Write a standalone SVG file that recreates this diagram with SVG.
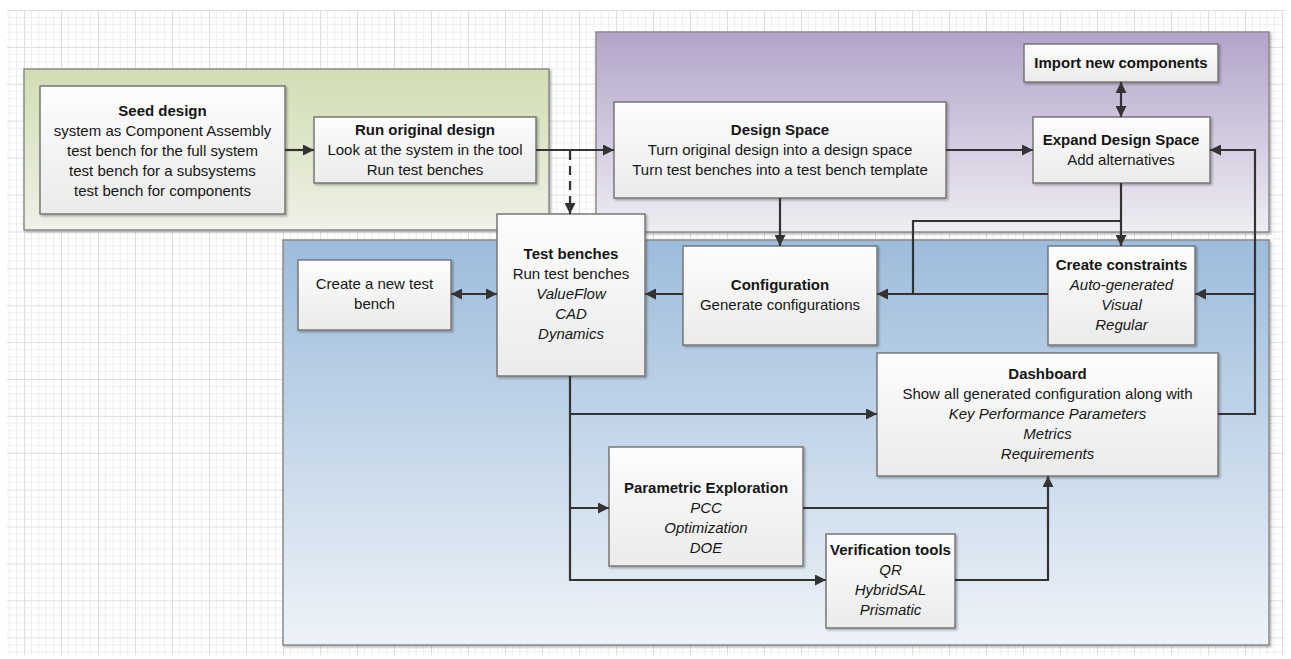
<svg xmlns="http://www.w3.org/2000/svg" width="1291" height="659" viewBox="0 0 1291 659">
  <defs>
    <pattern id="grid" x="24" y="10" width="37" height="36.9" patternUnits="userSpaceOnUse">
      <path d="M7.4 0V36.9M14.8 0V36.9M22.2 0V36.9M29.6 0V36.9M0 7.38H37M0 14.76H37M0 22.14H37M0 29.52H37" stroke="#f0eded" stroke-width="1" fill="none"/>
      <path d="M0.5 0V36.9M0 0.5H37" stroke="#e2dddd" stroke-width="1" fill="none"/>
    </pattern>
    <linearGradient id="gGreen" x1="0" y1="0" x2="0" y2="1">
      <stop offset="0" stop-color="#d2ddb3"/>
      <stop offset="1" stop-color="#eef1e7"/>
    </linearGradient>
    <linearGradient id="gPurple" x1="0" y1="0" x2="0" y2="1">
      <stop offset="0" stop-color="#b2a4c9"/>
      <stop offset="1" stop-color="#efedf3"/>
    </linearGradient>
    <linearGradient id="gBlue" x1="0" y1="0" x2="0" y2="1">
      <stop offset="0" stop-color="#9dbcdc"/>
      <stop offset="1" stop-color="#eef3f8"/>
    </linearGradient>
    <linearGradient id="gNode" x1="0" y1="0" x2="0" y2="1">
      <stop offset="0" stop-color="#fdfdfd"/>
      <stop offset="1" stop-color="#ebebeb"/>
    </linearGradient>
    <filter id="shadow" x="-5%" y="-5%" width="115%" height="120%">
      <feDropShadow dx="1.5" dy="1.5" stdDeviation="1" flood-color="#000" flood-opacity="0.3"/>
    </filter>
    <marker id="arrow" viewBox="0 0 10 10" refX="10" refY="5" markerWidth="11" markerHeight="11" markerUnits="userSpaceOnUse" orient="auto-start-reverse">
      <path d="M0 0L10 5L0 10z" fill="#333"/>
    </marker>
    <style>
      .container { stroke: #8a8a8a; stroke-width: 1.5; filter: url(#shadow); }
      .box { fill: url(#gNode); stroke: #777; stroke-width: 1.5; filter: url(#shadow); }
      .t { font-family: "Liberation Sans", Arial, sans-serif; font-size: 15px; fill: #161616; text-anchor: middle; }
      .b { font-weight: bold; }
      .i { font-style: italic; }
      .link { fill: none; stroke: #333; stroke-width: 2.2; }
      .dash { stroke-dasharray: 9 6; }
    </style>
  </defs>

  <!-- drawing sheet -->
  <rect x="0" y="0" width="1291" height="659" fill="#fff"/>
  <rect x="7" y="10" width="1278" height="645" fill="url(#grid)"/>

  <!-- swimlane containers -->
  <g id="lane-seed">
    <rect class="container" x="24" y="69" width="525" height="161" fill="url(#gGreen)"/>
  </g>
  <g id="lane-design-space">
    <rect class="container" x="596" y="32" width="673" height="200" fill="url(#gPurple)"/>
  </g>
  <g id="lane-evaluation">
    <rect class="container" x="283" y="240" width="986" height="405" fill="url(#gBlue)"/>
  </g>

  <!-- nodes -->
  <g id="seed-design">
    <rect class="box" x="40" y="86" width="245" height="128"/>
    <text class="t b" x="162.5" y="116">Seed design</text>
    <text class="t" x="162.5" y="136">system as Component Assembly</text>
    <text class="t" x="162.5" y="156">test bench for the full system</text>
    <text class="t" x="162.5" y="176">test bench for a subsystems</text>
    <text class="t" x="162.5" y="196">test bench for components</text>
  </g>
  <g id="run-original-design">
    <rect class="box" x="314" y="117" width="222" height="66"/>
    <text class="t b" x="425" y="135">Run original design</text>
    <text class="t" x="425" y="155">Look at the system in the tool</text>
    <text class="t" x="425" y="175">Run test benches</text>
  </g>
  <g id="design-space">
    <rect class="box" x="614" y="102" width="332" height="96"/>
    <text class="t b" x="780" y="135">Design Space</text>
    <text class="t" x="780" y="155">Turn original design into a design space</text>
    <text class="t" x="780" y="175">Turn test benches into a test bench template</text>
  </g>
  <g id="import-new-components">
    <rect class="box" x="1024" y="44" width="194" height="38"/>
    <text class="t b" x="1121" y="68">Import new components</text>
  </g>
  <g id="expand-design-space">
    <rect class="box" x="1033" y="117" width="177" height="66"/>
    <text class="t b" x="1121" y="145">Expand Design Space</text>
    <text class="t" x="1121" y="165">Add alternatives</text>
  </g>
  <g id="create-test-bench">
    <rect class="box" x="298" y="260" width="153" height="70"/>
    <text class="t" x="374.5" y="289">Create a new test</text>
    <text class="t" x="374.5" y="309">bench</text>
  </g>
  <g id="test-benches">
    <rect class="box" x="497" y="214" width="148" height="162"/>
    <text class="t b" x="571" y="259">Test benches</text>
    <text class="t" x="571" y="279">Run test benches</text>
    <text class="t i" x="571" y="299">ValueFlow</text>
    <text class="t i" x="571" y="319">CAD</text>
    <text class="t i" x="571" y="339">Dynamics</text>
  </g>
  <g id="configuration">
    <rect class="box" x="683" y="246" width="194" height="99"/>
    <text class="t b" x="780" y="290">Configuration</text>
    <text class="t" x="780" y="310">Generate configurations</text>
  </g>
  <g id="create-constraints">
    <rect class="box" x="1048" y="246" width="147" height="99"/>
    <text class="t b" x="1121.5" y="270">Create constraints</text>
    <text class="t i" x="1121.5" y="290">Auto-generated</text>
    <text class="t i" x="1121.5" y="310">Visual</text>
    <text class="t i" x="1121.5" y="330">Regular</text>
  </g>
  <g id="dashboard">
    <rect class="box" x="877" y="353" width="341" height="123"/>
    <text class="t b" x="1047.5" y="379">Dashboard</text>
    <text class="t" x="1047.5" y="399">Show all generated configuration along with</text>
    <text class="t i" x="1047.5" y="419">Key Performance Parameters</text>
    <text class="t i" x="1047.5" y="439">Metrics</text>
    <text class="t i" x="1047.5" y="459">Requirements</text>
  </g>
  <g id="parametric-exploration">
    <rect class="box" x="609" y="447" width="194" height="119"/>
    <text class="t b" x="706" y="493">Parametric Exploration</text>
    <text class="t i" x="706" y="513">PCC</text>
    <text class="t i" x="706" y="533">Optimization</text>
    <text class="t i" x="706" y="553">DOE</text>
  </g>
  <g id="verification-tools">
    <rect class="box" x="826" y="534" width="129" height="94"/>
    <text class="t b" x="890.5" y="555">Verification tools</text>
    <text class="t i" x="890.5" y="575">QR</text>
    <text class="t i" x="890.5" y="595">HybridSAL</text>
    <text class="t i" x="890.5" y="615">Prismatic</text>
  </g>

  <!-- connectors -->
  <g id="connectors">
    <path class="link" d="M285 150H314" marker-end="url(#arrow)"/>
    <path class="link" d="M536 150H614" marker-end="url(#arrow)"/>
    <path class="link dash" d="M570 151V214" marker-end="url(#arrow)"/>
    <path class="link" d="M946 150H1033" marker-end="url(#arrow)"/>
    <path class="link" d="M1121 82V117" marker-start="url(#arrow)" marker-end="url(#arrow)"/>
    <path class="link" d="M780 198V246" marker-end="url(#arrow)"/>
    <path class="link" d="M1121 183V246" marker-end="url(#arrow)"/>
    <path class="link" d="M1121 221H913V294"/>
    <path class="link" d="M1048 294H877" marker-end="url(#arrow)"/>
    <path class="link" d="M683 294H645" marker-end="url(#arrow)"/>
    <path class="link" d="M451 294H497" marker-start="url(#arrow)" marker-end="url(#arrow)"/>
    <path class="link" d="M1218 414H1255V150H1210" marker-end="url(#arrow)"/>
    <path class="link" d="M1255 294H1195" marker-end="url(#arrow)"/>
    <path class="link" d="M570 376V580H826" marker-end="url(#arrow)"/>
    <path class="link" d="M570 414H877" marker-end="url(#arrow)"/>
    <path class="link" d="M570 508H609" marker-end="url(#arrow)"/>
    <path class="link" d="M803 508H1048V476" marker-end="url(#arrow)"/>
    <path class="link" d="M955 580H1048V508"/>
  </g>
</svg>
